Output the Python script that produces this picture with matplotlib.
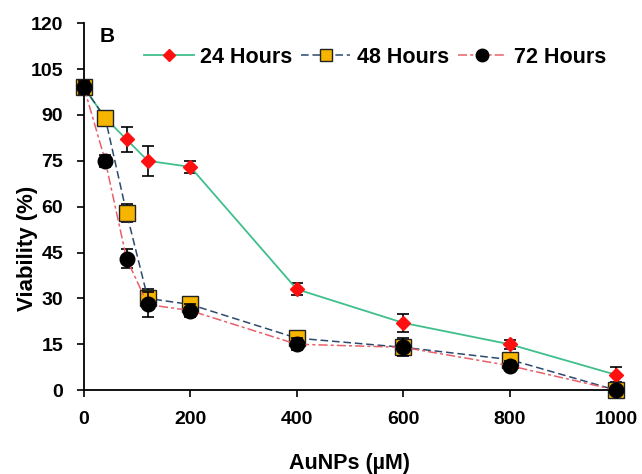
import matplotlib
matplotlib.use("Agg")
import matplotlib.pyplot as plt
from matplotlib.lines import Line2D

plt.rcParams['font.family'] = ['Liberation Sans', 'DejaVu Sans']

conc = [0, 40, 80, 120, 200, 400, 600, 800, 1000]
h24 = [99, 89, 82, 75, 73, 33, 22, 15, 5]
h24_err = [2, 2, 4, 5, 2, 2, 3, 1.5, 2.5]
h48 = [99, 89, 58, 30, 28, 17, 14, 10, 0]
h48_err = [2, 2, 3, 3, 2, 1.5, 2, 1.5, 1]
h72 = [99, 75, 43, 28, 26, 15, 14, 8, 0]
h72_err = [2, 2, 3, 4, 2, 2, 3, 1.5, 1]
yticks = [0, 15, 30, 45, 60, 75, 90, 105, 120]
xticks = [0, 200, 400, 600, 800, 1000]
labels = ['24 Hours', '48 Hours', '72 Hours']

fig = plt.figure(figsize=(6.42, 4.74), dpi=100)
ax = fig.add_axes([0.1308, 0.177, 0.8287, 0.774])

styles = [
    dict(color='#3fbf8c', ls='-', lw=1.3, marker='D', ms=7.5, mfc='#ff1010', mec='#ff1010'),
    dict(color='#2c4a6e', ls=(0, (5, 2.5)), lw=1.1, marker='s', ms=11, mfc='#f7b500', mec='#222222'),
    dict(color='#e8606a', ls=(0, (6, 2, 2, 2)), lw=1.1, marker='o', ms=10.5, mfc='black', mec='black'),
]
series = [(h24, h24_err), (h48, h48_err), (h72, h72_err)]
zorders = [3, 4, 5]
for (vals, errs), st, z in zip(series, styles, zorders):
    ax.errorbar(conc, vals, yerr=errs, fmt='none', ecolor='black', elinewidth=1.2,
                capsize=4, capthick=1.2, zorder=z, clip_on=False)
    ax.plot(conc, vals, zorder=z + 0.5, clip_on=False, **st)

ax.set_xlim(0, 1000)
ax.set_ylim(0, 120)
ax.set_xticks(xticks)
ax.set_yticks(yticks)
for s in ['top', 'right']:
    ax.spines[s].set_visible(False)
for s in ['left', 'bottom']:
    ax.spines[s].set_linewidth(1.3)
ax.tick_params(direction='out', length=5, width=1.2, labelsize=14, pad=10)
for lab in ax.get_xticklabels() + ax.get_yticklabels():
    lab.set_fontweight('bold')
ax.set_xlabel('AuNPs (µM)', fontsize=15.5, fontweight='bold', labelpad=18)
ax.set_ylabel('Viability (%)', fontsize=16, fontweight='bold', va='center')
ax.yaxis.set_label_coords(-0.107, 0.387)

leg_styles = [dict(st) for st in styles]
leg_styles[0]['ms'] = 6.5
leg_styles[1]['ms'] = 9
leg_styles[2]['ms'] = 9
handles = [Line2D([], [], **st) for st in leg_styles]
ax.legend(handles, labels, loc='center', bbox_to_anchor=(0.547, 0.907), ncol=3,
          frameon=False, prop={'weight': 'bold', 'size': 15.5}, handlelength=2.3,
          columnspacing=0.4, handletextpad=0.3, borderpad=0, borderaxespad=0)
ax.text(0.03, 0.99, 'B', transform=ax.transAxes, fontsize=15, fontweight='bold',
        va='top', ha='left')

fig.savefig('out.png', dpi=100)
